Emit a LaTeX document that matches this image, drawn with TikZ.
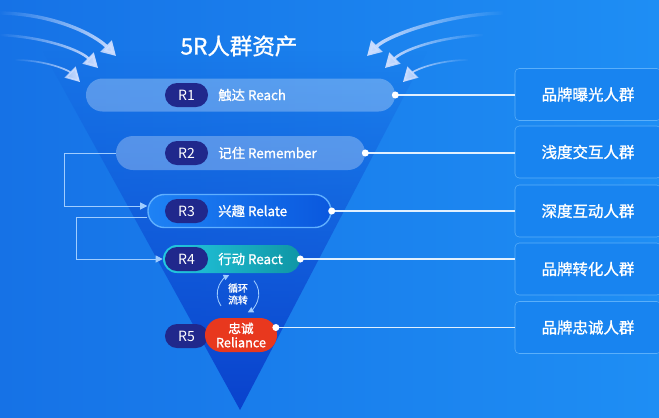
\documentclass[tikz,border=0pt]{standalone}
\usepackage{fontspec}
\setmainfont{Noto Sans CJK SC}
\newfontfamily\heavy[FakeBold=1.2]{Noto Sans CJK SC}
\usetikzlibrary{arrows.meta,shapes.misc,fadings}

\definecolor{bgleft}{RGB}{22,114,230}
\definecolor{bgright}{RGB}{30,142,244}
\definecolor{funneldark}{RGB}{10,66,205}
\definecolor{navy}{RGB}{32,40,140}
\definecolor{paleblue}{RGB}{160,205,255}
\definecolor{relateA}{RGB}{30,130,245}
\definecolor{relateB}{RGB}{10,88,222}
\definecolor{relateglow}{RGB}{95,175,255}
\definecolor{reactA}{RGB}{35,200,225}
\definecolor{reactB}{RGB}{15,150,165}
\definecolor{loyal}{RGB}{232,56,30}
\definecolor{boxfill}{RGB}{24,132,240}
\definecolor{boxline}{RGB}{90,175,250}
\definecolor{wire}{RGB}{225,240,255}
\definecolor{arrowc}{RGB}{205,222,255}

\tikzfading[name=fadeleft, left color=transparent!100, right color=transparent!0]
\tikzfading[name=faderight, left color=transparent!0, right color=transparent!100]
\tikzfading[name=fadetop, top color=transparent!100, bottom color=transparent!0]

\begin{document}
\begin{tikzpicture}[x=0.025cm, y=-0.025cm,
    pill/.style={rounded rectangle, inner sep=0pt},
    badge/.style={pill, fill=navy, minimum width=1.075cm, minimum height=0.6cm,
        text=white, font=\fontsize{10}{11}\selectfont},
    lbl/.style={anchor=west, inner sep=0pt, text=white, font=\heavy\fontsize{9.5}{11}\selectfont},
    crowd/.style={draw=boxline, fill=boxfill, rounded corners=3pt, minimum width=3.65cm,
        minimum height=1.3cm, text=white, font=\heavy\fontsize{11}{12}\selectfont},
    wire/.style={draw=wire, line width=1.1pt},
    dot/.style={circle, fill=white, inner sep=0pt, minimum size=5pt},
    backline/.style={draw=paleblue, line width=0.6pt, -{Triangle[length=5pt,width=5pt]}},
    cycarrow/.style={draw=paleblue, line width=0.6pt, -{Triangle[length=4pt,width=4pt]}},
    swoosh/.style={draw=arrowc, -{Triangle[length=10pt,width=11pt]}},
]
    % background, 659 x 417 px
    \fill[left color=bgleft, right color=bgright] (0,0) rectangle (659,417);
    \useasboundingbox (0,0) rectangle (659,417);

    % funnel, tip at (240,410), fades in from the top
    \fill[funneldark, path fading=fadetop] (42,50) -- (428,50) -- (240,410) -- cycle;

    % swooshes, left side
    \draw[swoosh, line width=2.4pt, path fading=fadeleft] (0,13) .. controls (55,14) and (95,35) .. (116,56);
    \draw[swoosh, line width=1.8pt, path fading=fadeleft] (0,35) .. controls (45,37) and (80,50) .. (98,68);
    \draw[swoosh, line width=1.2pt, path fading=fadeleft] (15,60) .. controls (45,60) and (68,70) .. (80,82);
    % swooshes, right side
    \draw[swoosh, line width=2.4pt, path fading=faderight] (503,13) .. controls (448,14) and (388,35) .. (367,56);
    \draw[swoosh, line width=1.8pt, path fading=faderight] (483,35) .. controls (438,37) and (403,50) .. (385,68);
    \draw[swoosh, line width=1.2pt, path fading=faderight] (468,60) .. controls (438,60) and (415,70) .. (403,82);

    \node[text=white, font=\heavy\fontsize{16}{18}\selectfont] (title) at (239,46) {5R人群资产};

    % bars
    \node[pill, fill=white, fill opacity=0.28, minimum width=7.725cm, minimum height=0.825cm] (b1) at (240.5,95) {};
    \node[pill, fill=white, fill opacity=0.28, minimum width=6.225cm, minimum height=0.85cm] (b2) at (240.5,153) {};
    \node[pill, left color=relateA, right color=relateB, draw=relateglow, line width=1pt,
        minimum width=4.575cm, minimum height=0.825cm] (b3) at (239.5,211) {};
    \node[pill, left color=reactA, right color=reactB, minimum width=3.425cm, minimum height=0.7cm] (b4) at (231.5,259) {};

    % feedback loops
    \draw[backline] (b2.west) -- ++(-51,0) |- ([yshift=0.125cm]b3.west);
    \draw[backline] ([yshift=-0.15cm]b3.west) -- ++(-71,0) |- (b4.west);

    % badges
    \node[badge] (r1) at (186.5,95) {R1};
    \node[badge] (r2) at (186.5,153) {R2};
    \node[badge] (r3) at (186.5,211) {R3};
    \node[badge] (r4) at (186.5,259) {R4};
    \node[badge] (r5) at (186.5,336) {R5};
    \node[pill, fill=loyal, minimum width=1.8cm, minimum height=0.85cm, text=white, align=center,
        font=\heavy\fontsize{9}{10}\selectfont] (b5) at (241,335) {忠诚\\Reliance};

    \node[lbl] (t1) at (218,95) {触达 Reach};
    \node[lbl] (t2) at (218,153) {记住 Remember};
    \node[lbl] (t3) at (218,211) {兴趣 Relate};
    \node[lbl] (t4) at (218,259) {行动 React};

    % crowds
    \node[crowd] (g1) at (588,94.5) {品牌曝光人群};
    \node[crowd] (g2) at (588,152) {浅度交互人群};
    \node[crowd] (g3) at (588,211) {深度互动人群};
    \node[crowd] (g4) at (588,269) {品牌转化人群};
    \node[crowd] (g5) at (588,327.5) {品牌忠诚人群};

    % wires
    \draw[wire] (b1.east) -- (b1.east -| g1.west);
    \draw[wire] (b2.east) -- (b2.east -| g2.west);
    \draw[wire] (b3.east) -- (b3.east -| g3.west);
    \draw[wire] (b4.east) -- (b4.east -| g4.west);
    \draw[wire] (b5.east |- g5.west) -- (g5.west);
    \node[dot] (d1) at (b1.east) {};
    \node[dot] (d2) at (b2.east) {};
    \node[dot] (d3) at (b3.east) {};
    \node[dot] (d4) at (b4.east) {};
    \node[dot] (d5) at ([xshift=-1pt]b5.east |- g5.west) {};

    % cycle between R4 and R5
    \coordinate (cyc) at (238,294);
    \draw[cycarrow] ([shift={(215:0.52cm)}]cyc) arc[start angle=215, end angle=115, radius=0.52cm];
    \draw[cycarrow] ([shift={(40:0.52cm)}]cyc) arc[start angle=40, end angle=-62, radius=0.52cm];
    \node[text=white, align=center, font=\heavy\fontsize{7}{8.5}\selectfont] (cyctext) at (cyc) {循环\\流转};
\end{tikzpicture}
\end{document}
